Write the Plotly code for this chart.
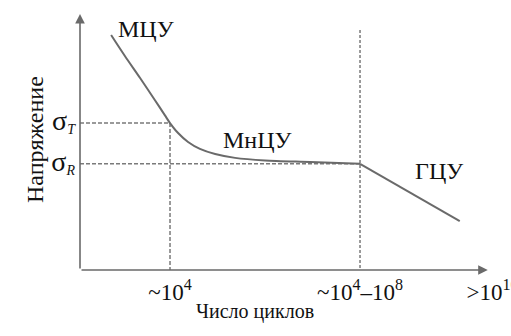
import plotly.graph_objects as go

# Schematic fatigue curve: log10(cycles) vs stress (arbitrary units)
curve_x = [2.76, 3.05, 3.37, 3.68, 3.89, 4.00, 4.17, 4.38, 4.63, 4.95, 5.37, 6.00, 6.95, 8.00]
curve_y = [9.18, 8.36, 7.50, 6.64, 6.05, 5.74, 5.35, 5.00, 4.73, 4.53, 4.38, 4.28, 4.22, 4.15]
gcu_x = [8.00, 10.10]
gcu_y = [4.15, 1.91]

sigma_T = 5.74
sigma_R = 4.15
n_low = 4.0      # ~10^4
n_high = 8.0     # ~10^8
n_giga = 10.79   # >10^10
vline_top = 9.375

x_ticks = [n_low, n_high, n_giga]
x_labels = ["~10<sup>4</sup>", "~10<sup>4</sup>–10<sup>8</sup>", "&gt;10<sup>10</sup>"]
y_ticks = [sigma_T, sigma_R]
y_labels = ["<span style='font-size:28px'>σ</span><sub><i>T</i></sub>",
            "<span style='font-size:28px'>σ</span><sub><i>R</i></sub>"]

regions = [("МЦУ", 3.49, 9.41), ("МнЦУ", 5.85, 5.08), ("ГЦУ", 9.66, 3.87)]

x_range = [2.105, 10.968]
y_range = [0, 10.156]
x_tip = 10.69
y_tip = 10.0

FONT = "Liberation Serif"
TXT = "#111111"
LINE = "#6a6a6a"
DASH = "#7a7a7a"

fig = go.Figure()

x0 = x_range[0]
# dashed guide lines
for xs, ys, dash in [
    ([x0, n_low], [sigma_T, sigma_T], "4px,2px"),
    ([n_low, n_low], [sigma_T, 0], "4px,2px"),
    ([x0, n_high], [sigma_R, sigma_R], "4px,2px"),
    ([n_high, n_high], [vline_top, 0], "3px,2px"),
]:
    fig.add_trace(go.Scatter(x=xs, y=ys, mode="lines",
                             line=dict(color=DASH, width=1.5, dash=dash),
                             hoverinfo="skip", showlegend=False, cliponaxis=False))

# the curve itself
fig.add_trace(go.Scatter(x=curve_x, y=curve_y, mode="lines",
                         line=dict(color=LINE, width=2, shape="spline", smoothing=0.8),
                         showlegend=False))
fig.add_trace(go.Scatter(x=gcu_x, y=gcu_y, mode="lines",
                         line=dict(color=LINE, width=2), showlegend=False))

annotations = []
# axis arrows
annotations.append(dict(x=x_tip, y=0, ax=x0, ay=0, xref="x", yref="y", axref="x", ayref="y",
                        showarrow=True, arrowhead=2, arrowsize=1.2, arrowwidth=1.6,
                        arrowcolor=LINE, text=""))
annotations.append(dict(x=x0, y=y_tip, ax=x0, ay=0, xref="x", yref="y", axref="x", ayref="y",
                        showarrow=True, arrowhead=2, arrowsize=1.2, arrowwidth=1.6,
                        arrowcolor=LINE, text=""))
# region labels
for txt, x, y in regions:
    annotations.append(dict(x=x, y=y, xref="x", yref="y", text=txt, showarrow=False,
                            font=dict(family=FONT, size=24, color=TXT)))
# axis titles
annotations.append(dict(x=0, y=0.5, xref="paper", yref="paper", xshift=-60,
                        text="Напряжение", textangle=-90, showarrow=False,
                        font=dict(family=FONT, size=24, color=TXT)))
annotations.append(dict(x=x0 + (255 - 80) / 47.5, y=0, xref="x", yref="paper", yshift=-55,
                        text="Число циклов", showarrow=False,
                        font=dict(family=FONT, size=20, color=TXT)))

fig.update_layout(
    width=511, height=336,
    margin=dict(l=80, r=10, t=10, b=66),
    paper_bgcolor="white", plot_bgcolor="white",
    font=dict(family=FONT, color=TXT),
    annotations=annotations,
    xaxis=dict(range=x_range, showgrid=False, zeroline=False, showline=False,
               tickvals=x_ticks, ticktext=x_labels, ticks="",
               tickfont=dict(family=FONT, size=23, color=TXT),
               ticklabelstandoff=6, ticklabeloverflow="allow", automargin=False),
    yaxis=dict(range=y_range, showgrid=False, zeroline=False, showline=False,
               tickvals=y_ticks, ticktext=y_labels, ticks="",
               tickfont=dict(family=FONT, size=20, color=TXT),
               ticklabelstandoff=4, automargin=False),
)

fig.write_html("out.html")
